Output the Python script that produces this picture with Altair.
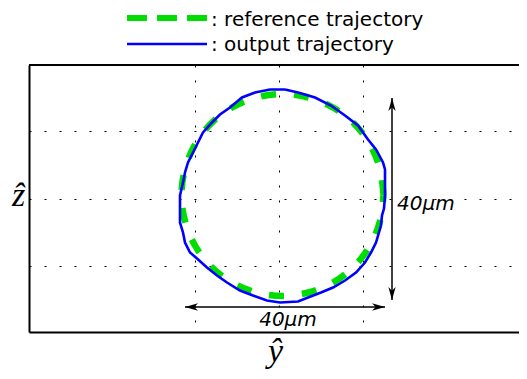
import altair as alt
import pandas as pd

# reference trajectory (green dashed), in micrometres
ref_y = [20.9, 20.2, 18.2, 15.0, 10.8, 5.9, 0.7, -4.5, -9.4, -13.6, -16.8, -18.8,
         -19.5, -18.8, -16.8, -13.6, -9.4, -4.5, 0.7, 5.9, 10.8, 15.0, 18.2, 20.2, 20.9]
ref_z = [0.7, 5.9, 10.8, 15.0, 18.2, 20.2, 20.9, 20.2, 18.2, 15.0, 10.8, 5.9,
         0.7, -4.5, -9.4, -13.6, -16.8, -18.8, -19.5, -18.8, -16.8, -13.6, -9.4, -4.5, 0.7]

# output trajectory (blue), in micrometres
out_y = [1.2, -1.8, -4.8, -7.4, -9.8, -11.8, -13.4, -15.2, -16.4, -17.4, -18.2, -18.8,
         -19.2, -19.8, -19.8, -19.2, -18.8, -17.8, -16.4, -14.4, -12.4, -10.4, -7.8,
         -5.2, -2.4, 0.2, 3.8, 5.8, 8.4, 10.8, 13.2, 15.4, 17.2, 18.4, 19.4, 20.4, 20.6,
         21.0, 21.2, 21.2, 20.8, 19.4, 17.8, 15.8, 13.2, 10.4, 7.2, 3.8, 1.2]
out_z = [21.8, 21.8, 21.2, 20.2, 18.2, 16.8, 15.2, 13.2, 10.8, 8.8, 7.2, 5.2,
         3.2, 0.6, -4.8, -6.8, -8.8, -10.8, -12.0, -13.8, -15.4, -16.8, -18.4,
         -19.4, -20.4, -20.8, -20.6, -19.8, -18.8, -17.8, -16.4, -14.8, -12.8, -10.8, -8.8,
         -5.4, -3.4, -2.0, 0.6, 5.8, 7.2, 9.8, 11.8, 14.6, 16.6, 18.6, 20.2, 21.2, 21.8]

# dimension arrows (40 µm)
arrow_y1 = [-18.8, 22.6]
arrow_y2 = [21.2, 22.6]
arrow_z1 = [-21.7, 20.1]
arrow_z2 = [-21.7, -20.3]
arrow_label = ["40µm", "40µm"]
label_y = [1.8, 23.6]
label_z = [-25.5, -2.3]
label_align = ["center", "left"]

grid_y = [-16.8, 0, 16.8]
grid_z = [13.4, 0, -13.4]

legend_labels = [": reference trajectory", ": output trajectory"]

GREEN = "#00dd00"
BLUE = "#0000ff"

W, H = 490, 267
xs = alt.Scale(domain=[-50, 48], nice=False, zero=False)
ys = alt.Scale(domain=[-26.7, 26.7], nice=False, zero=False)

ref_df = pd.DataFrame({"y": ref_y, "z": ref_z, "i": range(len(ref_y))})
out_df = pd.DataFrame({"y": out_y, "z": out_z, "i": range(len(out_y))})
one = pd.DataFrame({"k": [0]})

xaxis = alt.Axis(title="ŷ", labels=False, ticks=False, grid=True, values=grid_y,
                 gridDash=[2, 13], gridColor="#000", gridWidth=1,
                 domainColor="#000", domainWidth=2,
                 titleFont="Liberation Serif", titleFontStyle="italic",
                 titleFontWeight="normal", titleFontSize=34, titleColor="#000",
                 titleY=29, titleBaseline="alphabetic", titleX=246)
yaxis = alt.Axis(title="ẑ", labels=False, ticks=False, grid=True, values=grid_z,
                 gridDash=[2, 13], gridColor="#000", gridWidth=1,
                 domainColor="#000", domainWidth=2,
                 titleFont="Liberation Serif", titleFontStyle="italic",
                 titleFontWeight="normal", titleFontSize=34, titleColor="#000",
                 titleAngle=0, titleX=-11, titleY=140, titleAlign="center",
                 titleBaseline="alphabetic")

ref_line = alt.Chart(ref_df).mark_line(
    color=GREEN, strokeWidth=6.5, strokeDash=[15, 18], strokeCap="butt",
    interpolate="cardinal"
).encode(
    x=alt.X("y:Q", scale=xs, axis=xaxis),
    y=alt.Y("z:Q", scale=ys, axis=yaxis),
    order="i:Q",
)

out_line = alt.Chart(out_df).mark_line(color=BLUE, strokeWidth=2.6).encode(
    x=alt.X("y:Q", scale=xs),
    y=alt.Y("z:Q", scale=ys),
    order="i:Q",
)

arr_df = pd.DataFrame({"y1": arrow_y1, "y2": arrow_y2, "z1": arrow_z1, "z2": arrow_z2})
arrows = alt.Chart(arr_df).mark_rule(color="#000", strokeWidth=1.5).encode(
    x=alt.X("y1:Q", scale=xs), x2="y2:Q",
    y=alt.Y("z1:Q", scale=ys), y2="z2:Q",
)

head_df = pd.DataFrame({
    "y": arrow_y1 + arrow_y2,
    "z": arrow_z1 + arrow_z2,
    "ang": [180, 270, 0, 90],
})
HEAD = "M0,0L-1,-0.28L-0.72,0L-1,0.28Z"
heads = alt.Chart(head_df).mark_point(shape=HEAD, filled=True, color="#000",
                                      opacity=1, size=676).encode(
    x=alt.X("y:Q", scale=xs),
    y=alt.Y("z:Q", scale=ys),
    angle=alt.Angle("ang:Q", scale=None),
)

lab_df = pd.DataFrame({"y": label_y, "z": label_z, "t": arrow_label, "a": label_align})
lab_c = alt.Chart(lab_df[lab_df.a == "center"]).mark_text(
    font="DejaVu Sans", fontSize=20, fontStyle="italic", align="center",
    baseline="alphabetic", color="#000"
).encode(x=alt.X("y:Q", scale=xs), y=alt.Y("z:Q", scale=ys), text="t:N")
lab_l = alt.Chart(lab_df[lab_df.a == "left"]).mark_text(
    font="DejaVu Sans", fontSize=20, fontStyle="italic", align="left",
    baseline="alphabetic", color="#000"
).encode(x=alt.X("y:Q", scale=xs), y=alt.Y("z:Q", scale=ys), text="t:N")

top_border = alt.Chart(one).mark_rule(color="#000", strokeWidth=2).encode(
    x=alt.value(0), x2=alt.value(W), y=alt.value(0)
)

leg_green = alt.Chart(one).mark_rule(
    color=GREEN, strokeWidth=6, strokeDash=[20, 10], strokeCap="butt"
).encode(x=alt.value(98), x2=alt.value(178), y=alt.value(-47))
leg_blue = alt.Chart(one).mark_rule(color=BLUE, strokeWidth=2.5).encode(
    x=alt.value(98), x2=alt.value(178), y=alt.value(-21))
leg_t1 = alt.Chart(one).mark_text(
    text=legend_labels[0], font="DejaVu Sans", fontSize=20, align="left",
    baseline="middle", color="#000"
).encode(x=alt.value(182), y=alt.value(-45))
leg_t2 = alt.Chart(one).mark_text(
    text=legend_labels[1], font="DejaVu Sans", fontSize=20, align="left",
    baseline="middle", color="#000"
).encode(x=alt.value(182), y=alt.value(-20))

chart = alt.layer(
    ref_line, out_line, arrows, heads, lab_c, lab_l, top_border,
    leg_green, leg_blue, leg_t1, leg_t2
).properties(
    width=W, height=H,
    padding={"left": 21, "top": 57, "right": 0, "bottom": 39},
    autosize=alt.AutoSizeParams(type="none"),
).configure_view(stroke=None).configure(background="white")

chart.save("out.html", embed_options={"renderer": "svg", "actions": False})
